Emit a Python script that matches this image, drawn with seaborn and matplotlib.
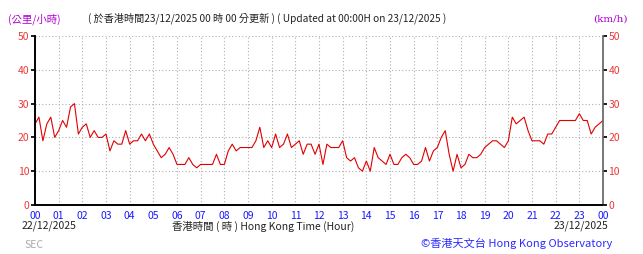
import numpy as np
import pandas as pd
import matplotlib
matplotlib.use("Agg")
import matplotlib.pyplot as plt
import seaborn as sns

# 10-minute wind speed readings (km/h), 22/12/2025 00:00 -> 23/12/2025 00:00
speed = [
    24, 26, 19, 24, 26, 20,   # 00
    22, 25, 23, 29, 30, 21,   # 01
    23, 24, 20, 22, 20, 20,   # 02
    21, 16, 19, 18, 18, 22,   # 03
    18, 19, 19, 21, 19, 21,   # 04
    18, 16, 14, 15, 17, 15,   # 05
    12, 12, 12, 14, 12, 11,   # 06
    12, 12, 12, 12, 15, 12,   # 07
    12, 16, 18, 16, 17, 17,   # 08
    17, 17, 19, 23, 17, 19,   # 09
    17, 21, 17, 18, 21, 17,   # 10
    18, 19, 15, 18, 18, 15,   # 11
    18, 12, 18, 17, 17, 17,   # 12
    19, 14, 13, 14, 11, 10,   # 13
    13, 10, 17, 14, 13, 12,   # 14
    15, 12, 12, 14, 15, 14,   # 15
    12, 12, 13, 17, 13, 16,   # 16
    17, 20, 22, 15, 10, 15,   # 17
    11, 12, 15, 14, 14, 15,   # 18
    17, 18, 19, 19, 18, 17,   # 19
    19, 26, 24, 25, 26, 22,   # 20
    19, 19, 19, 18, 21, 21,   # 21
    23, 25, 25, 25, 25, 25,   # 22
    27, 25, 25, 21, 23, 24,   # 23
    25,
]
hours = [i / 6 for i in range(len(speed))]
hour_labels = ["00", "01", "02", "03", "04", "05", "06", "07", "08", "09", "10", "11",
               "12", "13", "14", "15", "16", "17", "18", "19", "20", "21", "22", "23", "00"]
y_ticks = [0, 10, 20, 30, 40, 50]

df = pd.DataFrame({"hour": hours, "speed": speed})

sns.set_theme(style="white")
plt.rcParams["font.family"] = ["Noto Sans CJK TC", "DejaVu Sans"]

fig = plt.figure(figsize=(6.43, 2.54), dpi=100)
ax = fig.add_axes([35 / 643, 49 / 254, 568 / 643, 169 / 254])

sns.lineplot(data=df, x="hour", y="speed", ax=ax, color="#e00000", linewidth=0.8)

ax.set_xlim(0, 24)
ax.set_ylim(0, 50)
ax.set_xticks(range(25))
ax.set_xticklabels(hour_labels)
ax.set_xticks(np.arange(0, 24.01, 1 / 3), minor=True)
ax.set_yticks(y_ticks)
ax.set_yticklabels([str(v) for v in y_ticks])
ax.set_xlabel("")
ax.set_ylabel("")
ax.grid(True, which="major", color="#b0b0b0", linestyle=(0, (1, 2)), linewidth=0.8)
ax.tick_params(axis="x", which="major", labelsize=7.5, length=3, pad=1, color="black")
ax.tick_params(axis="x", which="minor", length=2, color="black")
ax.tick_params(axis="y", labelcolor="#e83a3a", labelsize=7.5, length=3, pad=1, color="black")
for lab in ax.get_xticklabels():
    lab.set_color("#1a1aff")

ax2 = ax.twinx()
ax2.set_ylim(0, 50)
ax2.set_yticks(y_ticks)
ax2.set_yticklabels([str(v) for v in y_ticks])
ax2.tick_params(axis="y", labelcolor="#e83a3a", labelsize=7.5, length=3, pad=1, color="black")
ax2.grid(False)

for a in (ax, ax2):
    a.spines["top"].set_visible(False)
    a.spines["left"].set_color("black")
    a.spines["bottom"].set_color("black")
    a.spines["right"].set_color("#666666")
    a.spines["left"].set_linewidth(1.2)
    a.spines["bottom"].set_linewidth(1.2)
ax2.spines["right"].set_visible(True)
ax.spines["right"].set_visible(False)

fig.text(8 / 643, 1 - 19 / 254, "(公里/小時)", color="#b000d0", fontsize=7.5, va="center")
fig.text(628 / 643, 1 - 19 / 254, "(km/h)", color="#b000d0", fontsize=7.5, va="center",
         ha="right", family=["DejaVu Serif"])
fig.text(88 / 643, 1 - 18 / 254,
         "( 於香港時間23/12/2025 00 時 00 分更新 ) ( Updated at 00:00H on 23/12/2025 )",
         color="#222222", fontsize=7.3, va="center")
fig.text(22 / 643, 1 - 226 / 254, "22/12/2025", color="#222222", fontsize=7.5, va="center")
fig.text(608 / 643, 1 - 226 / 254, "23/12/2025", color="#222222", fontsize=7.5, va="center",
         ha="right")
fig.text(263 / 643, 1 - 226 / 254, "香港時間 ( 時 ) Hong Kong Time (Hour)", color="#222222",
         fontsize=7.5, va="center", ha="center")
fig.text(24 / 643, 1 - 245 / 254, "SEC", color="#aaaaaa", fontsize=7.5, va="center")
fig.text(612 / 643, 1 - 243 / 254, "©香港天文台 Hong Kong Observatory", color="#2a2aff",
         fontsize=8, va="center", ha="right")

fig.savefig("out.png", dpi=100)
